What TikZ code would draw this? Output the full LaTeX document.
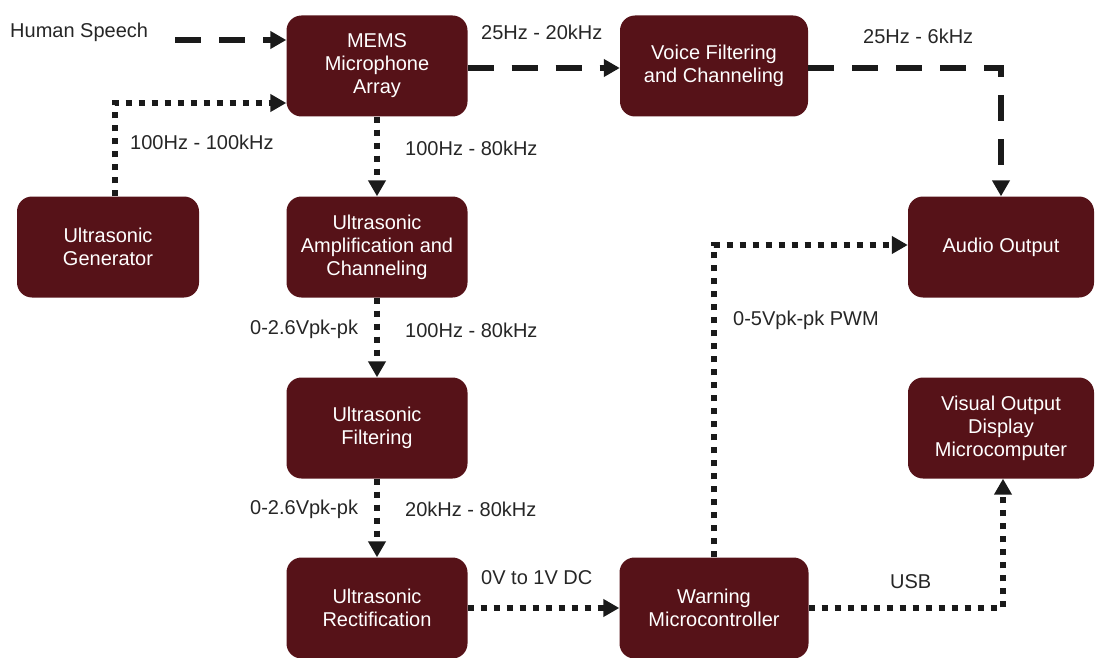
\documentclass[tikz,border=0pt]{standalone}
\usepackage{fontspec}
\setmainfont{Liberation Sans}
\usetikzlibrary{arrows.meta,calc}
\definecolor{boxred}{HTML}{561218}
\definecolor{labgray}{HTML}{262626}
\definecolor{linegray}{HTML}{1A1A1A}
\tikzset{
  blockbox/.style={draw=none, fill=boxred, rounded corners=15pt, text=white,
    align=center, inner sep=0pt, minimum height=101pt,
    font=\fontsize{20}{23}\selectfont},
  lab/.style={text=labgray, inner sep=0pt, anchor=west, font=\fontsize{20}{23}\selectfont},
  dotline/.style={draw=linegray, line width=5.5pt, dash pattern=on 6.5pt off 6.5pt,
    -{Triangle[length=16pt,width=17pt]}},
  dashline/.style={draw=linegray, line width=6pt, dash pattern=on 26pt off 18pt,
    -{Triangle[length=16pt,width=17pt]}},
}
\begin{document}
\begin{tikzpicture}[x=1pt,y=-1pt]
\useasboundingbox (0,0) rectangle (1095,658);
% blocks
\node[blockbox, minimum width=181pt] (mems) at (377,66) {MEMS\\Microphone\\Array};
\node[blockbox, minimum width=188pt] (voice) at (714,66) {Voice Filtering\\and Channeling};
\node[blockbox, minimum width=182pt] (gen) at (108,247) {Ultrasonic\\Generator};
\node[blockbox, minimum width=181pt] (amp) at (377,247) {Ultrasonic\\Amplification and\\Channeling};
\node[blockbox, minimum width=186pt] (audio) at (1001,247) {Audio Output};
\node[blockbox, minimum width=181pt] (filt) at (377,428) {Ultrasonic\\Filtering};
\node[blockbox, minimum width=186pt] (visual) at (1001,428) {Visual Output\\Display\\Microcomputer};
\node[blockbox, minimum width=181pt] (rect) at (377,608) {Ultrasonic\\Rectification};
\node[blockbox, minimum width=189pt] (warn) at (714,608) {Warning\\Microcontroller};
% labels
\node[lab] (lspeech) at (10,32) {Human Speech};
\node[lab] (lgen) at (130,142) {100Hz - 100kHz};
\node[lab] (lmems) at (405,148) {100Hz - 80kHz};
\node[lab] (lvoicein) at (481,32) {25Hz - 20kHz};
\node[lab] (lvoiceout) at (863,36) {25Hz - 6kHz};
\node[lab] (lampv) at (250,329) {0-2.6Vpk-pk};
\node[lab] (lampf) at (405,330) {100Hz - 80kHz};
\node[lab] (lfiltv) at (250,509) {0-2.6Vpk-pk};
\node[lab] (lfiltf) at (405,509) {20kHz - 80kHz};
\node[lab] (lrect) at (481,578) {0V to 1V DC};
\node[lab] (lpwm) at (733,320) {0-5Vpk-pk PWM};
\node[lab] (lusb) at (890,582) {USB};
% connectors
\coordinate (hs) at (175,40);
\draw[dashline] (hs) -- (mems.west |- hs);
\draw[dotline] ([xshift=7pt]gen.north) |- ([yshift=-37pt]mems.west);
\draw[dotline] (mems.south) -- (amp.north);
\draw[dashline] ([yshift=-2pt]mems.east) -- ([yshift=-2pt]voice.west);
\draw[dashline] ([yshift=-2pt]voice.east) -| (audio.north);
\draw[dotline] (amp.south) -- (filt.north);
\draw[dotline] (filt.south) -- (rect.north);
\draw[dotline] (rect.east) -- (warn.west);
\draw[dotline] (warn.north) |- ([yshift=2pt]audio.west);
\draw[dotline] (warn.east) -| ([xshift=2pt]visual.south);
\end{tikzpicture}
\end{document}
